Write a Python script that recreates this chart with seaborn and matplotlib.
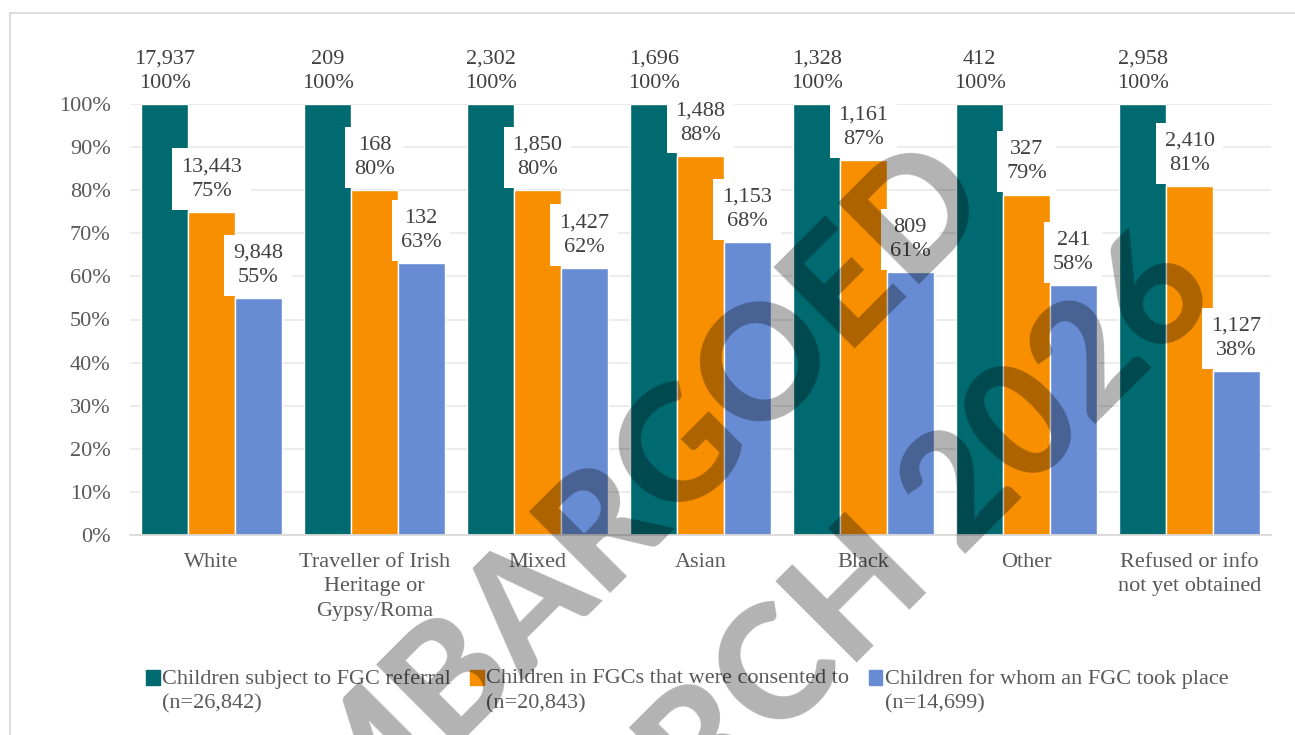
import numpy as np
import pandas as pd
import matplotlib
matplotlib.use("Agg")
import matplotlib.pyplot as plt
import matplotlib.patches as mpatches
from matplotlib.legend_handler import HandlerPatch
import seaborn as sns

# ---------------- data ----------------
categories = ["White", "Traveller of Irish\nHeritage or\nGypsy/Roma", "Mixed", "Asian",
              "Black", "Other", "Refused or info\nnot yet obtained"]
series_names = ["Children subject to FGC referral\n(n=26,842)",
                "Children in FGCs that were consented to\n(n=20,843)",
                "Children for whom an FGC took place\n(n=14,699)"]
referral_counts = [17937, 209, 2302, 1696, 1328, 412, 2958]
referral_pct = [100, 100, 100, 100, 100, 100, 100]
consented_counts = [13443, 168, 1850, 1488, 1161, 327, 2410]
consented_pct = [75, 80, 80, 88, 87, 79, 81]
tookplace_counts = [9848, 132, 1427, 1153, 809, 241, 1127]
tookplace_pct = [55, 63, 62, 68, 61, 58, 38]
y_ticks = [0, 10, 20, 30, 40, 50, 60, 70, 80, 90, 100]
watermark_lines = ["EMBARGOED", "MARCH 2026"]

colors = ["#006A71", "#F78F00", "#678CD3"]

rows = []
for s, cnts, pcts in zip(series_names,
                         [referral_counts, consented_counts, tookplace_counts],
                         [referral_pct, consented_pct, tookplace_pct]):
    for c, n, p in zip(categories, cnts, pcts):
        rows.append(dict(category=c, series=s, count=n, pct=p))
df = pd.DataFrame(rows)

# ---------------- style ----------------
sns.set_theme(style="white")
plt.rcParams["font.family"] = ["Liberation Serif", "DejaVu Serif"]
FS = 16
LS = 1.38

W, H = 1295, 735
fig = plt.figure(figsize=(W / 100, H / 100), dpi=100)
ax = fig.add_axes([130 / W, 1 - 535 / H, (1271 - 130) / W, (535 - 104) / H])

sns.barplot(data=df, x="category", y="pct", hue="series", order=categories,
            hue_order=series_names, palette=colors, width=0.86, gap=0,
            saturation=1, errorbar=None, legend=False, ax=ax)

for cont, cnts, pcts in zip(ax.containers,
                            [referral_counts, consented_counts, tookplace_counts],
                            [referral_pct, consented_pct, tookplace_pct]):
    labels = [f"{n:,}\n{p}%" for n, p in zip(cnts, pcts)]
    ax.bar_label(cont, labels=labels, padding=8, fontsize=FS, color="#404040",
                 linespacing=LS,
                 bbox=dict(boxstyle="square,pad=0.4", fc="white", ec="none"))

ax.set_ylim(0, 100)
ax.set_xlim(-0.5, len(categories) - 0.5)
ax.set_yticks(y_ticks)
ax.set_yticklabels([f"{v}%" for v in y_ticks])
ax.set_xlabel("")
ax.set_ylabel("")
ax.yaxis.grid(True, color="#EBEBEB", lw=1.3)
ax.set_axisbelow(True)
for side in ["top", "left", "right"]:
    ax.spines[side].set_visible(False)
ax.spines["bottom"].set_color("#D9D9D9")
ax.spines["bottom"].set_linewidth(1.3)
ax.tick_params(axis="y", length=0, pad=14, labelsize=FS, labelcolor="#595959")
ax.tick_params(axis="x", length=0, pad=13, labelsize=FS, labelcolor="#595959")
for t in ax.get_xticklabels():
    t.set_linespacing(LS)


def up_patch(legend, orig_handle, xdescent, ydescent, width, height, fontsize):
    return mpatches.Rectangle((-xdescent, -ydescent + fontsize * 0.58), width, height)


handles = [mpatches.Patch(color=c) for c in colors]
leg = fig.legend(handles, series_names, loc="upper left",
                 bbox_to_anchor=(146 / W, 1 - 669 / H), ncol=3, frameon=False,
                 fontsize=FS, handlelength=0.62, handleheight=0.62,
                 handletextpad=0.1, columnspacing=0.87, borderpad=0,
                 borderaxespad=0, labelcolor="#595959",
                 handler_map={mpatches.Patch: HandlerPatch(patch_func=up_patch)})
for t in leg.get_texts():
    t.set_linespacing(LS)

# outer border
fig.patches.append(mpatches.Rectangle((10 / W, -0.05), 1.2, 1 - 13 / H + 0.05,
                                      transform=fig.transFigure, fill=False,
                                      ec="#D9D9D9", lw=1.3))

# watermark
for txt, (px, py) in zip(watermark_lines, [(634, 557), (870, 650)]):
    fig.text(px / W, 1 - py / H, txt, rotation=45, rotation_mode="anchor",
             ha="center", va="baseline", fontsize=114, fontweight=900,
             family="Lato", color="black", alpha=0.3, zorder=10)

fig.savefig("out.png", dpi=100)
